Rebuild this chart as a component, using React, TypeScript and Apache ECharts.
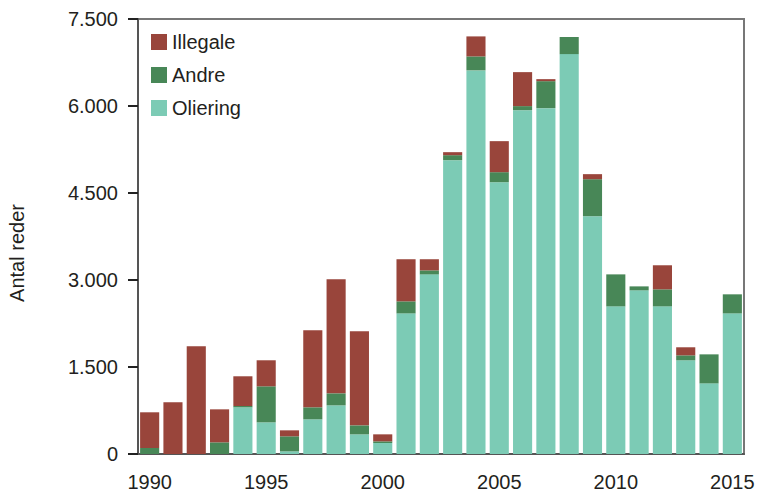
import React, { useEffect, useRef } from "react";
import * as echarts from "echarts";

const years = [
  "1990","1991","1992","1993","1994","1995","1996","1997","1998","1999",
  "2000","2001","2002","2003","2004","2005","2006","2007","2008","2009",
  "2010","2011","2012","2013","2014","2015",
];
const oliering = [0, 0, 0, 0, 805, 546, 46, 598, 839, 339, 190, 2425, 3097, 5066, 6614, 4686, 5928, 5963, 6895, 4100, 2546, 2822, 2546, 1616, 1218, 2425];
const andre = [103, 0, 0, 201, 23, 621, 259, 207, 207, 155, 28, 207, 69, 86, 241, 173, 70, 465, 295, 638, 551, 68, 293, 85, 500, 328];
const illegale = [616, 891, 1857, 569, 512, 449, 103, 1328, 1967, 1621, 121, 726, 192, 52, 345, 535, 586, 35, 0, 87, 0, 0, 415, 139, 0, 0];
const seriesNames = ["Illegale", "Andre", "Oliering"];
const colors = { Illegale: "#99453B", Andre: "#488757", Oliering: "#7CCBB5" };

const FONT = "Liberation Sans, Arial, sans-serif";
const TXT = "#231f20";

export default function App() {
  const ref = useRef<HTMLDivElement>(null);
  useEffect(() => {
    if (!ref.current) return;
    const chart = echarts.init(ref.current, null, { renderer: "svg" });
    const fmt = (v: number) => String(v).replace(/\B(?=(\d{3})+(?!\d))/g, ".");
    chart.setOption({
      animation: false,
      textStyle: { fontFamily: FONT },
      grid: {
        left: 138, right: 14, top: 19, bottom: 41,
        show: true, borderColor: "#777", borderWidth: 2, backgroundColor: "transparent",
      },
      legend: {
        data: seriesNames,
        orient: "vertical",
        left: 146, top: 27,
        icon: "rect",
        itemWidth: 16, itemHeight: 16, itemGap: 13,
        textStyle: { fontSize: 20, color: TXT, fontFamily: FONT },
      },
      xAxis: {
        type: "category",
        data: years,
        axisLine: { lineStyle: { color: "#555", width: 2 } },
        axisTick: { interval: 0, length: 9, lineStyle: { color: "#222", width: 2 } },
        axisLabel: { interval: 4, margin: 18, fontSize: 20, color: TXT, fontFamily: FONT },
      },
      yAxis: {
        type: "value",
        min: 0, max: 7500, interval: 1500,
        splitLine: { show: false },
        axisLine: { show: true, lineStyle: { color: "#555", width: 2 } },
        axisTick: { show: true, length: 10, lineStyle: { color: "#222", width: 2 } },
        axisLabel: { margin: 20, fontSize: 20, color: TXT, fontFamily: FONT, formatter: fmt },
      },
      graphic: [
        {
          type: "text",
          x: 17, y: 253,
          rotation: Math.PI / 2,
          style: {
            text: "Antal reder", fontSize: 20, fill: TXT, fontFamily: FONT,
            align: "center", verticalAlign: "middle",
          },
        },
      ],
      series: [
        { name: "Oliering", type: "bar", stack: "a", data: oliering, itemStyle: { color: colors.Oliering }, barCategoryGap: "18%" },
        { name: "Andre", type: "bar", stack: "a", data: andre, itemStyle: { color: colors.Andre } },
        { name: "Illegale", type: "bar", stack: "a", data: illegale, itemStyle: { color: colors.Illegale } },
      ],
    });
    return () => chart.dispose();
  }, []);
  return <div ref={ref} style={{ width: 758, height: 495, position: "absolute", left: 0, top: 0 }} />;
}
